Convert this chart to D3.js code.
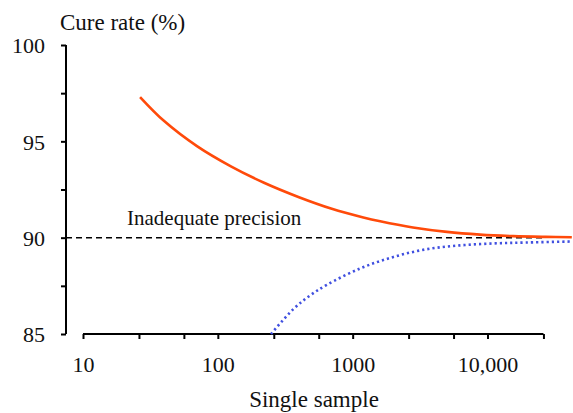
<!DOCTYPE html>
<html>
<head>
<meta charset="utf-8">
<script src="https://cdn.jsdelivr.net/npm/d3@7"></script>
<style>
  html body #chart text, html body #chart .tick text { font-family: "Liberation Serif", "Times New Roman", Tinos, serif !important; }
</style>
</head>
<body style="margin:0">
<svg id="chart" width="573" height="413"></svg>
<script>
// ---- data ----
const upperN = [26.5, 40, 70, 125, 220, 400, 700, 1200, 1600, 2800, 5000, 8800, 15500, 27000, 42200];
const upperV = [97.3, 96.05, 94.75, 93.7, 92.85, 92.1, 91.5, 91.05, 90.85, 90.53, 90.3, 90.16, 90.08, 90.04, 90.02];
const lowerN = [248, 364, 483, 643, 1135, 2005, 3540, 6260, 11070, 19500, 42200];
const lowerV = [85.0, 86.3, 87.0, 87.55, 88.4, 89.0, 89.4, 89.6, 89.7, 89.75, 89.8];
const thresholdValue = 90;
const thresholdLabel = "Inadequate precision";
const xTickValues = [10, 26, 56, 100, 260, 560, 1000, 2600, 5600, 10000, 26000];
const xLabelValues = [10, 100, 1000, 10000];
const xLabelTexts = ["10", "100", "1000", "10,000"];
const yTickValues = [85, 87.5, 90, 92.5, 95, 97.5, 100];
const yLabelValues = [85, 90, 95, 100];
const yTitle = "Cure rate (%)";
const xTitle = "Single sample";

// ---- scales ----
const x = d3.scaleLog().domain([10, 10000]).range([83, 487.5]);
const y = d3.scaleLinear().domain([85, 100]).range([334, 45]);
const svg = d3.select("#chart");
const yAxisX = 66;
const xAxisY = y(85);
const fontFam = '"Liberation Serif", "Times New Roman", serif';

// y axis
const yAxis = d3.axisLeft(y).tickValues(yTickValues).tickSize(5)
  .tickFormat(d => yLabelValues.includes(d) ? d3.format("d")(d) : "");
const gy = svg.append("g").attr("transform", `translate(${yAxisX},0)`).call(yAxis);
gy.attr("font-family", fontFam).attr("font-size", 22);
gy.select(".domain").attr("d", `M0,${y(100)}V${y(85)}`);
gy.selectAll(".domain, .tick line").attr("stroke", "#000").attr("stroke-width", 2);
gy.selectAll(".tick text").attr("x", -21).attr("fill", "#111").attr("dy", "0.35em");

// x axis
const xAxis = d3.axisBottom(x).tickValues(xTickValues).tickSize(5)
  .tickFormat(d => { const i = xLabelValues.indexOf(d); return i >= 0 ? xLabelTexts[i] : ""; });
const gx = svg.append("g").attr("transform", `translate(0,${xAxisY})`).call(xAxis);
gx.attr("font-family", fontFam).attr("font-size", 22);
gx.select(".domain").attr("d", `M${x(10)},0H${x(26000)}`);
gx.selectAll(".domain, .tick line").attr("stroke", "#000").attr("stroke-width", 2);
gx.selectAll(".tick text").attr("y", 38).attr("dy", 0).attr("fill", "#111");

// threshold dashed line
svg.append("line")
  .attr("x1", yAxisX).attr("x2", x(26000))
  .attr("y1", y(thresholdValue)).attr("y2", y(thresholdValue))
  .attr("stroke", "#000").attr("stroke-width", 1.5).attr("stroke-dasharray", "6,4");

svg.append("text").attr("x", 127).attr("y", 225)
  .attr("font-size", 21).attr("fill", "#111").attr("font-family", fontFam).text(thresholdLabel);

// curves
const line = d3.line().x(d => x(d[0])).y(d => y(d[1])).curve(d3.curveCatmullRom.alpha(0.5));
svg.append("path").datum(upperN.map((n, i) => [n, upperV[i]]))
  .attr("d", line).attr("fill", "none").attr("stroke", "#FF4A0A").attr("stroke-width", 2.6);
svg.append("path").datum(lowerN.map((n, i) => [n, lowerV[i]]))
  .attr("d", line).attr("fill", "none").attr("stroke", "#4050E0").attr("stroke-width", 2.6)
  .attr("stroke-dasharray", "2.2,3");

// titles
svg.append("text").attr("x", 60).attr("y", 30).attr("font-size", 23).attr("fill", "#111")
  .attr("font-family", fontFam).text(yTitle);
svg.append("text").attr("x", 314).attr("y", 407).attr("text-anchor", "middle")
  .attr("font-size", 23).attr("fill", "#111").attr("font-family", fontFam).text(xTitle);
</script>
</body>
</html>
